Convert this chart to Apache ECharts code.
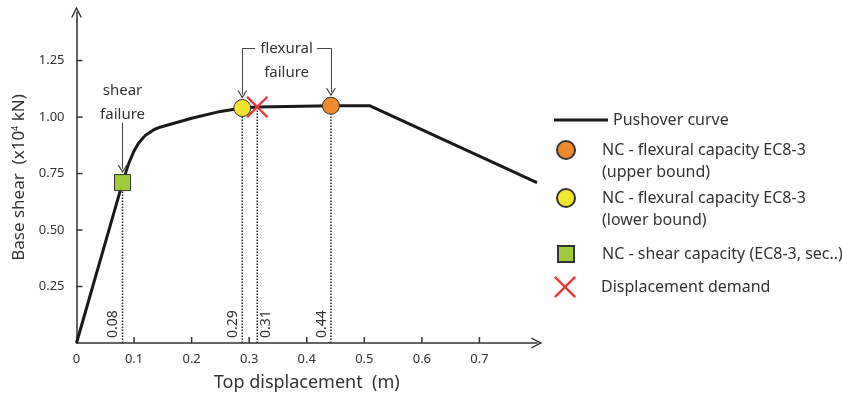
<!DOCTYPE html>
<html>
<head>
<meta charset="utf-8">
<script src="https://cdn.jsdelivr.net/npm/echarts@6/dist/echarts.min.js"></script>
<style>
html,body{margin:0;padding:0;background:#fff;}
#chart{width:842px;height:399px;}
</style>
</head>
<body>
<div id="chart"></div>
<script>
// pushover curve (top displacement m, base shear x10^4 kN)
var curveX = [0, 0.08, 0.09, 0.1, 0.108, 0.12, 0.135, 0.145, 0.2, 0.25, 0.288, 0.314, 0.442, 0.51, 0.8];
var curveY = [0, 0.71, 0.79, 0.85, 0.885, 0.92, 0.945, 0.955, 0.995, 1.025, 1.04, 1.045, 1.05, 1.05, 0.71];

var upperPt = [0.442, 1.05];
var lowerPt = [0.288, 1.04];
var shearPt = [0.08, 0.71];
var demandPt = [0.314, 1.045];

var guideX = [0.08, 0.288, 0.314, 0.442];
var guideY = [0.71, 1.04, 1.045, 1.05];
var guideLabels = ['0.08', '0.29', '0.31', '0.44'];
var guideSide = [-1, -1, 1, -1];

var xTicks = [0.1, 0.2, 0.3, 0.4, 0.5, 0.6, 0.7];
var yTicks = [0.25, 0.5, 0.75, 1.0, 1.25];

var FONT = 'Noto Sans';
var TXT = '#333';
var CHEV = 'path://M0,10 L5,0 L10,10 L8.6,10 L5,2.8 L1.4,10 Z';
var CROSS = 'path://M0,1.5 L1.5,0 L10,8.5 L18.5,0 L20,1.5 L11.5,10 L20,18.5 L18.5,20 L10,11.5 L1.5,20 L0,18.5 L8.5,10 Z';
var BAR = 'path://M0,0 L54,0 L54,3 L0,3 Z';
var SQUARE = 'path://M0,0 L10,0 L10,10 L0,10 Z';

var X_MIN = 0, X_MAX = 0.8, X_STEP = 0.1;
var Y_MIN = 0, Y_MAX = 1.465, Y_STEP = 0.25;

function pairs(xs, ys){
	return xs.map(function(x, i){ return [x, ys[i]]; });
}

function guideSeries(){
	return guideX.map(function(x, i){
		return {
			name: 'guide' + i,
			type: 'line',
			silent: true,
			symbol: 'none',
			lineStyle: {color: '#222', width: 1.5, type: 'dotted'},
			data: [
				{value: [x, 0], symbol: 'circle', symbolSize: 0.1,
				 label: {show: true, formatter: guideLabels[i], rotate: 90, position: [guideSide[i] * 9, -5],
					align: 'left', verticalAlign: 'middle', fontFamily: FONT, fontSize: 14, color: TXT}},
				[x, guideY[i]]
			],
			z: 1
		};
	});
}

// inward axis ticks (axisTick.inside draws nothing in this build)
function tickSeries(){
	var data = xTicks.map(function(v){ return [v, 0]; })
		.concat(yTicks.map(function(v){ return [v, 1]; }));
	return {
		name: 'ticks',
		type: 'custom',
		silent: true,
		clip: false,
		data: data,
		renderItem: function(params, api){
			var v = api.value(0);
			var isY = api.value(1) === 1;
			var p = isY ? api.coord([X_MIN, v]) : api.coord([v, Y_MIN]);
			var end = isY ? [p[0] + 6, p[1]] : [p[0], p[1] - 6];
			return {
				type: 'line',
				shape: {x1: p[0], y1: p[1], x2: end[0], y2: end[1]},
				style: {stroke: '#333', lineWidth: 1.5}
			};
		},
		z: 1
	};
}

function annotSeries(){
	var lineStyle = {color: '#444', width: 1, type: 'solid'};
	return {
		name: 'annot',
		type: 'scatter',
		silent: true,
		symbolSize: 0,
		itemStyle: {opacity: 1},
		data: [
			{value: [0.08, 1.065], label: {formatter: 'shear\nfailure'}},
			{value: [0.365, 1.25], label: {formatter: 'flexural\nfailure'}}
		],
		label: {show: true, position: 'inside', fontFamily: FONT, fontSize: 15, lineHeight: 24, color: TXT, opacity: 1},
		markLine: {
			silent: true,
			animation: false,
			symbolSize: [10, 8],
			lineStyle: lineStyle,
			label: {show: false},
			data: [
				[{coord: [0.08, 0.975], symbol: 'none'}, {coord: [0.08, 0.77], symbol: CHEV}],
				[{coord: [0.31, 1.305], symbol: 'none'}, {coord: [0.288, 1.305], symbol: 'none'}],
				[{coord: [0.288, 1.305], symbol: 'none'}, {coord: [0.288, 1.1], symbol: CHEV}],
				[{coord: [0.418, 1.305], symbol: 'none'}, {coord: [0.442, 1.305], symbol: 'none'}],
				[{coord: [0.442, 1.305], symbol: 'none'}, {coord: [0.442, 1.11], symbol: CHEV}]
			]
		},
		z: 3
	};
}

function legendItem(name, icon, left, top, w, h){
	return {
		data: [{name: name, icon: icon}],
		orient: 'vertical',
		left: left,
		top: top,
		padding: 0,
		itemWidth: w,
		itemHeight: h,
		selectedMode: false,
		textStyle: {fontFamily: FONT, fontSize: 16, lineHeight: 22, color: TXT}
	};
}

var NAME_UP = '\u00a0\nNC - flexural capacity EC8-3\n(upper bound)';
var NAME_LOW = '\u00a0\nNC - flexural capacity EC8-3\n(lower bound)';
var NAME_SHEAR = 'NC - shear capacity (EC8-3, sec..)';
var NAME_DEM = 'Displacement demand';

var option = {
	animation: false,
	backgroundColor: '#fff',
	textStyle: {fontFamily: FONT},
	grid: {left: 76.5, right: 305, top: 12, bottom: 56},
	legend: [
		legendItem('Pushover curve', BAR, 554, 109, 54, 3),
		legendItem(NAME_UP, 'circle', 556, 117, 62, 18),
		legendItem(NAME_LOW, 'circle', 556, 165, 62, 18),
		legendItem(NAME_SHEAR, SQUARE, 557, 243, 62, 16),
		legendItem(NAME_DEM, CROSS, 554, 276, 62, 22)
	],
	xAxis: {
		type: 'value',
		min: X_MIN,
		max: X_MAX,
		interval: X_STEP,
		name: 'Top displacement  (m)',
		nameLocation: 'middle',
		nameGap: 31,
		nameTextStyle: {fontFamily: FONT, fontSize: 18, color: TXT},
		axisLine: {show: true, onZero: false, lineStyle: {color: '#333', width: 1.5}, symbol: ['none', CHEV], symbolSize: [11, 12]},
		axisTick: {show: false},
		axisLabel: {fontFamily: FONT, fontSize: 13, color: TXT, margin: 10, showMaxLabel: false,
			formatter: function(v){ return v === 0 ? '0' : v.toFixed(1); }},
		splitLine: {show: false}
	},
	yAxis: {
		type: 'value',
		min: Y_MIN,
		max: Y_MAX,
		interval: Y_STEP,
		name: 'Base shear  (x10{sup|4} kN)',
		nameLocation: 'middle',
		nameGap: 48,
		nameRotate: 90,
		nameTextStyle: {fontFamily: FONT, fontSize: 17, color: TXT,
			rich: {sup: {fontFamily: FONT, fontSize: 9, color: TXT, verticalAlign: 'top', padding: [0, 0, 8, 0]}}},
		axisLine: {show: true, onZero: false, lineStyle: {color: '#333', width: 1.5}, symbol: ['none', CHEV], symbolSize: [11, 12]},
		axisTick: {show: false},
		axisLabel: {fontFamily: FONT, fontSize: 13, color: TXT, margin: 12, showMinLabel: false, showMaxLabel: false,
			formatter: function(v){ return yTicks.indexOf(v) >= 0 ? v.toFixed(2) : ''; }},
		splitLine: {show: false}
	},
	series: [
		{
			name: 'Pushover curve',
			type: 'line',
			symbol: 'none',
			lineStyle: {color: '#1a1a1a', width: 3},
			itemStyle: {color: '#1a1a1a'},
			data: pairs(curveX, curveY),
			z: 2
		},
		{
			name: NAME_UP,
			type: 'scatter',
			symbol: 'circle',
			symbolSize: 17,
			itemStyle: {color: '#ee8a2b', borderColor: '#333', borderWidth: 1, opacity: 1},
			data: [upperPt],
			z: 4
		},
		{
			name: NAME_LOW,
			type: 'scatter',
			symbol: 'circle',
			symbolSize: 17,
			itemStyle: {color: '#f3e42e', borderColor: '#333', borderWidth: 1, opacity: 1},
			data: [lowerPt],
			z: 4
		},
		{
			name: NAME_SHEAR,
			type: 'scatter',
			symbol: 'rect',
			symbolSize: 16,
			itemStyle: {color: '#9fcb3a', borderColor: '#333', borderWidth: 1, opacity: 1},
			data: [shearPt],
			z: 4
		},
		{
			name: NAME_DEM,
			type: 'scatter',
			symbol: CROSS,
			symbolSize: 22,
			itemStyle: {color: '#e8363b', opacity: 1},
			data: [demandPt],
			z: 5
		},
		annotSeries(),
		tickSeries()
	].concat(guideSeries())
};

var myChart = echarts.init(document.getElementById('chart'), null, {renderer: 'canvas'});
myChart.setOption(option);
</script>
</body>
</html>
